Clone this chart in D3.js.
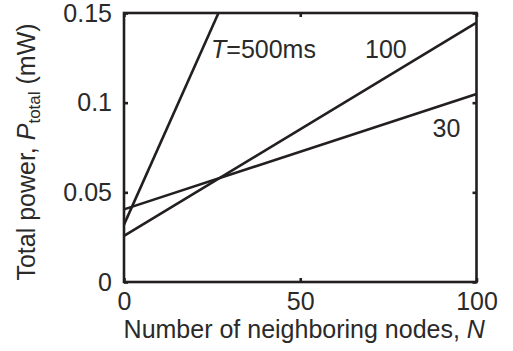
<!DOCTYPE html>
<html><head><meta charset="utf-8">
<script src="https://cdn.jsdelivr.net/npm/d3@7"></script>
<style>body{margin:0;background:#fff}svg{display:block}text{font-family:"Liberation Sans",Arial,sans-serif;fill:#2a2a2a}</style>
</head><body>
<script>
const xTicks = [0, 50, 100];
const yTicks = [0, 0.05, 0.1, 0.15];
const yTickLabels = ["0", "0.05", "0.1", "0.15"];
const seriesNames = ["T=500ms", "100", "30"];
const seriesN = [[0, 26.8], [0, 100], [0, 100]];
const seriesP = [[0.032, 0.15], [0.0257, 0.1446], [0.0405, 0.1048]];

const W = 513, H = 351;
const m = {l: 124, r: 36.5, t: 13, b: 69};
const col = "#231f20";
const tcol = "#2a2a2a";
const svg = d3.select("body").append("svg").attr("width", W).attr("height", H);
const x = d3.scaleLinear().domain([0, 100]).range([m.l, W - m.r]);
const y = d3.scaleLinear().domain([0, 0.15]).range([H - m.b, m.t]);

const g = svg.append("g");
const line = d3.line().x(d => x(d[0])).y(d => y(d[1]));
seriesN.forEach((ns, i) => {
  g.append("path").datum(ns.map((n, j) => [n, seriesP[i][j]]))
    .attr("d", line).attr("fill", "none").attr("stroke", col).attr("stroke-width", 2.6);
});
g.append("rect").attr("x", x(0)).attr("y", y(0.15)).attr("width", x(100) - x(0)).attr("height", y(0) - y(0.15))
  .attr("fill", "none").attr("stroke", col).attr("stroke-width", 2.6);

const fs = 25;
const xb = svg.append("g").attr("transform", `translate(0,${y(0)})`)
  .call(d3.axisBottom(x).tickValues(xTicks).tickSizeInner(-4).tickSizeOuter(0).tickPadding(10));
const xt = svg.append("g").attr("transform", `translate(0,${y(0.15)})`)
  .call(d3.axisTop(x).tickValues(xTicks).tickSizeInner(-4).tickSizeOuter(0).tickFormat(""));
const yl = svg.append("g").attr("transform", `translate(${x(0)},0)`)
  .call(d3.axisLeft(y).tickValues(yTicks).tickSizeInner(-4).tickSizeOuter(0).tickPadding(12)
    .tickFormat((d, i) => yTickLabels[i]));
const yr = svg.append("g").attr("transform", `translate(${x(100)},0)`)
  .call(d3.axisRight(y).tickValues(yTicks).tickSizeInner(-4).tickSizeOuter(0).tickFormat(""));
[xb, xt, yl, yr].forEach(a => {
  a.select(".domain").remove();
  a.selectAll(".tick line").attr("stroke", col).attr("stroke-width", 2.6);
  a.selectAll("text").attr("font-size", fs).attr("font-family", '"Liberation Sans",Arial,sans-serif').attr("fill", tcol);
});
xb.selectAll("text").attr("dy", "0.71em");

svg.append("text").attr("x", (x(0) + x(100)) / 2 + 4).attr("y", 338).attr("text-anchor", "middle")
  .attr("font-size", fs).html('Number of neighboring nodes, <tspan font-style="italic">N</tspan>');
const yt = svg.append("text").attr("transform", `translate(35,152) rotate(-90)`).attr("text-anchor", "middle").attr("font-size", fs);
yt.append("tspan").text("Total power, ");
yt.append("tspan").attr("font-style", "italic").text("P");
yt.append("tspan").attr("font-size", 17).attr("dy", 5).text("total");
yt.append("tspan").attr("dy", -5).text(" (mW)");

const lab = [[211, 58], [365, 58], [432.5, 137]];
seriesNames.forEach((s, i) => {
  const t = svg.append("text").attr("x", lab[i][0]).attr("y", lab[i][1]).attr("font-size", fs);
  if (s.startsWith("T=")) {
    t.append("tspan").attr("font-style", "italic").text("T");
    t.append("tspan").text(s.slice(1));
  } else t.text(s);
});
</script>
</body></html>
